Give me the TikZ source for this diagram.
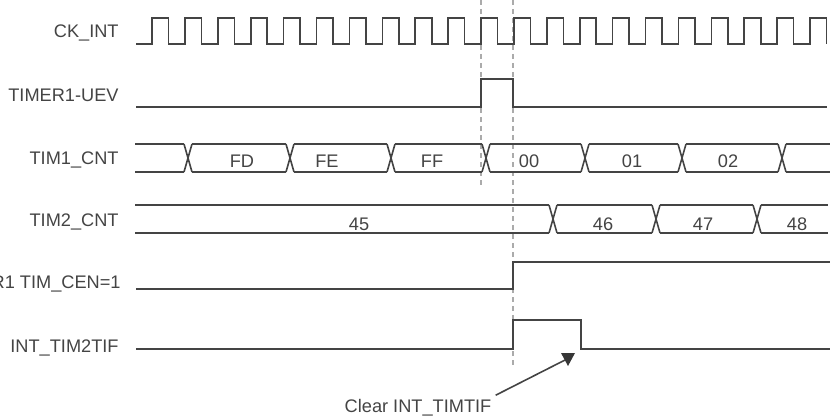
\documentclass[tikz,border=0pt]{standalone}
\usepackage{fontspec}
\setmainfont{Liberation Sans}
\usepackage{xcolor}
\usetikzlibrary{calc, positioning}

\definecolor{ink}{HTML}{444444}
\definecolor{guidegray}{HTML}{ABABAB}

\begin{document}
\begin{tikzpicture}[x=0.5pt, y=-0.5pt, font=\fontsize{9.1}{10}\selectfont,
    wave/.style={draw=ink, line width=0.8pt},
    guide/.style={draw=guidegray, line width=0.7pt, dash pattern=on 2.5pt off 2pt},
    lbl/.style={anchor=base east, inner sep=0pt, text=ink},
    val/.style={inner sep=0pt, text=ink}]
                        \useasboundingbox (0,0) rectangle (833,417);
                        % signal names
                        \node[lbl] (ck) at (119,38) {CK\_INT};
                        \node[lbl] (uev) at (119,101) {TIMER1-UEV};
                        \node[lbl] (cnt1) at (119,164) {TIM1\_CNT};
                        \node[lbl] (cnt2) at (119,226) {TIM2\_CNT};
                        \node[lbl] (cen) at (121,288) {R1 TIM\_CEN=1};
                        \node[lbl] (tif) at (119,352) {INT\_TIM2TIF};
                        % guides
                        \draw[guide] (481,0) -- (481,185);
                        \draw[guide] (513,0) -- (513,365);
                        % clock
                        \draw[wave] (136,44) \foreach \k in {0,...,20} {
                            -- ({152+32.9*\k},44) -- ++(0,-26) -- ++(16.5,0) -- ++(0,26)};
                        % update event
                        \draw[wave] (136,107) -- (481,107) -- (481,79) -- (513,79) -- (513,107) -- (827,107);
                        % TIM1 counter
                        \foreach \c in {188,290,391,486,585,682,782}
                            \draw[wave] (\c-4,144) -- (\c+4,172) (\c-4,172) -- (\c+4,144);
                        \foreach \a/\b in {135/184,192/286,294/387,395/482,490/581,589/678,686/778,786/830}
                            \draw[wave] (\a,144) -- (\b,144) (\a,172) -- (\b,172);
                        \node[val] (fd) at (242,161) {FD};
                        \node[val] (fe) at (327,161) {FE};
                        \node[val] (ff) at (432,161) {FF};
                        \node[val] (c00) at (529,161) {00};
                        \node[val] (c01) at (632,161) {01};
                        \node[val] (c02) at (728,161) {02};
                        % TIM2 counter
                        \foreach \c in {553,656,757}
                            \draw[wave] (\c-4,205) -- (\c+4,233) (\c-4,233) -- (\c+4,205);
                        \foreach \a/\b in {135/549,557/652,660/753,761/828}
                            \draw[wave] (\a,205) -- (\b,205) (\a,233) -- (\b,233);
                        \node[val] (c45) at (359,224) {45};
                        \node[val] (c46) at (603,224) {46};
                        \node[val] (c47) at (703,224) {47};
                        \node[val] (c48) at (797,224) {48};
                        % enable and flag
                        \draw[wave] (136,289) -- (513,289) -- (513,262) -- (830,262);
                        \draw[wave] (136,349) -- (513,349) -- (513,320) -- (581,320) -- (581,349) -- (830,349);
                        % clear note
                        \node[val, inner sep=2pt] (clr) at (418,408) {Clear INT\_TIMTIF};
                        \coordinate (tip) at (565,360);
                        \draw[ink, line width=0.8pt] (clr.north east) -- (tip);
                        \fill[ink!80!black] (561,353) -- (575,353) -- (568,366) -- cycle;
                    \end{tikzpicture}
\end{document}
